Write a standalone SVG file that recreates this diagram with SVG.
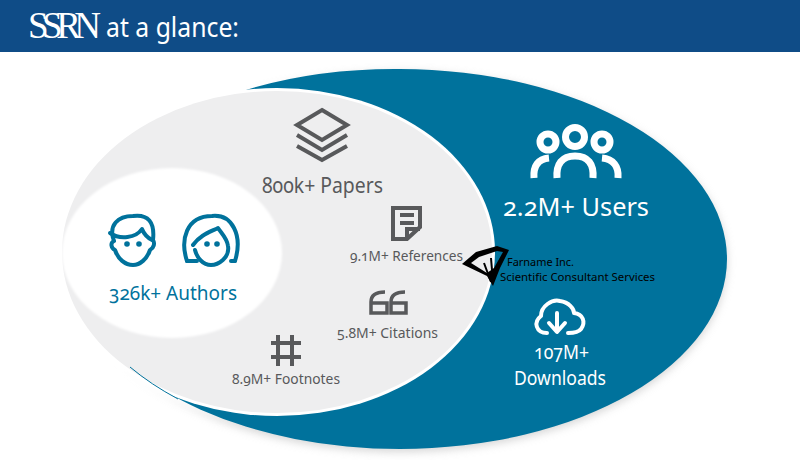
<svg xmlns="http://www.w3.org/2000/svg" width="800" height="460" viewBox="0 0 800 460">
<style>
text{font-family:"Noto Sans","Open Sans","Liberation Sans",sans-serif;font-feature-settings:"onum" 1;font-variant-numeric:oldstyle-nums}
.g{fill:#58595b}.b{fill:#00729c}.w{fill:#fff}
.is{fill:none;stroke:#58595b;stroke-width:4}
.ib{fill:none;stroke:#00729c;stroke-width:4;stroke-linejoin:round;stroke-linecap:round}
.iw{fill:none;stroke:#fff;stroke-width:4;stroke-linecap:round;stroke-linejoin:round}
.ten{font-size:14px}
</style>
<defs>
<filter id="soft" x="-10%" y="-10%" width="120%" height="120%"><feGaussianBlur stdDeviation="4"/></filter>
<filter id="edge" x="-5%" y="-5%" width="110%" height="110%"><feGaussianBlur stdDeviation="1"/></filter>
</defs>
<rect width="800" height="460" fill="#fff"/>
<g id="header">
<rect width="800" height="52" fill="#0f4c87"/>
<text x="28" y="38" font-size="37" fill="#fff" letter-spacing="-6.5" style="font-family:'Liberation Serif',serif">SSRN</text>
<text x="106" y="37" font-size="28" fill="#fff" textLength="133" lengthAdjust="spacingAndGlyphs">at a glance:</text>
</g>
<g id="venn">
<ellipse cx="400" cy="262" rx="327" ry="190" fill="#bbb" filter="url(#soft)" opacity=".6"/>
<ellipse cx="277" cy="252" rx="226" ry="170" fill="#fff" filter="url(#soft)"/>
<path d="M224 97A327 190 0 0 1 400 69A327 190 0 0 1 400 449A327 190 0 0 1 84 308Z" fill="#00729c"/>
<path d="M48 280C30 200 120 70 250 88L224 97 84 308Z" fill="#fff"/>
<ellipse cx="277" cy="252" rx="218" ry="164" fill="#fff"/>
<ellipse cx="277" cy="252" rx="215" ry="161" fill="#eeeeef"/>
<ellipse cx="172" cy="253" rx="110" ry="85" fill="#fff" filter="url(#edge)"/>
<path d="M130 367A327 190 0 0 0 178 399" fill="none" stroke="#00729c" stroke-width="1"/>
</g>
<g id="authors">
<path class="ib" d="M114 241C108 225 118 216 133 216C148 214 155 222 153 240C155 243 154 248 150 250C147 259 140 265 133 265C125 265 118 259 115 250C111 248 110 243 114 241"/>
<path class="ib" d="M110 233C120 240 136 238 142 229C144 234 148 238 152 240"/>
<circle class="b" cx="127" cy="244" r="2.8"/><circle class="b" cx="139" cy="244" r="2.8"/>
<path class="ib" d="M187 261C180 240 186 216 212 216C232 214 243 235 235 261" stroke-linecap="butt"/>
<path class="ib" d="M187 261H197M235 261H231" stroke-linecap="butt"/>
<path class="ib" d="M193 245C200 235 210 232 218 228C222 234 227 238 228 246C230 258 218 265 211 265C203 265 197 258 195 250"/>
<circle class="b" cx="207" cy="244" r="2.8"/><circle class="b" cx="217" cy="244" r="2.8"/>
<text class="b" x="109" y="300" font-size="20" textLength="128" lengthAdjust="spacingAndGlyphs">326k+ Authors</text>
</g>
<g id="papers">
<path class="is" d="M322 110L347 125L322 140L297 125Z"/>
<path class="is" d="M297 135L322 150L347 135M297 146L322 160L347 146"/>
<text class="g" x="262" y="193" font-size="21" textLength="121" lengthAdjust="spacingAndGlyphs">800k+ Papers</text>
</g>
<g id="references">
<path class="is" d="M393 208H420V227L407 239H393ZM407 239V229H420M400 215H414M400 223H414"/>
<text class="g ten" x="350" y="261" textLength="113" lengthAdjust="spacingAndGlyphs">9.1M+ References</text>
</g>
<g id="citations">
<path class="is" style="stroke-width:3.5" d="M385 292C376 292 371 295 371 302V313H387V303H371M405 292C396 292 391 295 391 302V313H406V303H391"/>
<text class="g ten" x="337" y="338" textLength="101" lengthAdjust="spacingAndGlyphs">5.8M+ Citations</text>
</g>
<g id="footnotes">
<path class="is" d="M278 335V366M292 335V366M271 343H301M271 357H301"/>
<text class="g ten" x="232" y="384" textLength="108" lengthAdjust="spacingAndGlyphs">8.9M+ Footnotes</text>
</g>
<g id="users">
<circle class="iw" style="stroke-width:7" cx="548" cy="142" r="8"/>
<circle class="iw" style="stroke-width:7" cx="575" cy="137" r="9.5"/>
<circle class="iw" style="stroke-width:7" cx="602" cy="142" r="8"/>
<path class="iw" style="stroke-width:7;stroke-linecap:butt" d="M557 178C556 164 562 156 575 156C588 156 594 164 593 178"/>
<path class="iw" style="stroke-width:7;stroke-linecap:butt" d="M534 178C533 166 538 159 549 158M618 178C619 166 613 159 602 158"/>
<text class="w" x="503" y="216" font-size="26" textLength="146" lengthAdjust="spacingAndGlyphs">2.2M+ Users</text>
</g>
<g id="downloads">
<path class="iw" d="M547 333C536 333 533 322 541 316C541 306 552 299 560 301C569 302 574 309 574 313C583 314 586 322 581 329C578 333 572 333 568 333"/>
<path class="iw" d="M557 313V331M549 323L557 332L565 323"/>
<text class="w" x="534" y="359" font-size="19" textLength="55" lengthAdjust="spacingAndGlyphs">107M+</text>
<text class="w" x="514" y="385" font-size="20" textLength="92" lengthAdjust="spacingAndGlyphs">Downloads</text>
</g>
<g id="farname">
<path fill="#000" fill-rule="evenodd" d="M462 264L476 252L497 246L509 250L500 268L493 286L487 276ZM471 263L487 273L494 268L503 252L497 251L479 257Z"/>
<path fill="none" stroke="#000" stroke-width="2" d="M484 263L491 282M491 258L493 282"/>
<text x="507" y="266" font-size="11" fill="#000" textLength="67" lengthAdjust="spacingAndGlyphs">Farname Inc.</text>
<text x="500" y="281" font-size="11" fill="#000" textLength="155" lengthAdjust="spacingAndGlyphs">Scientific Consultant Services</text>
</g>
</svg>
